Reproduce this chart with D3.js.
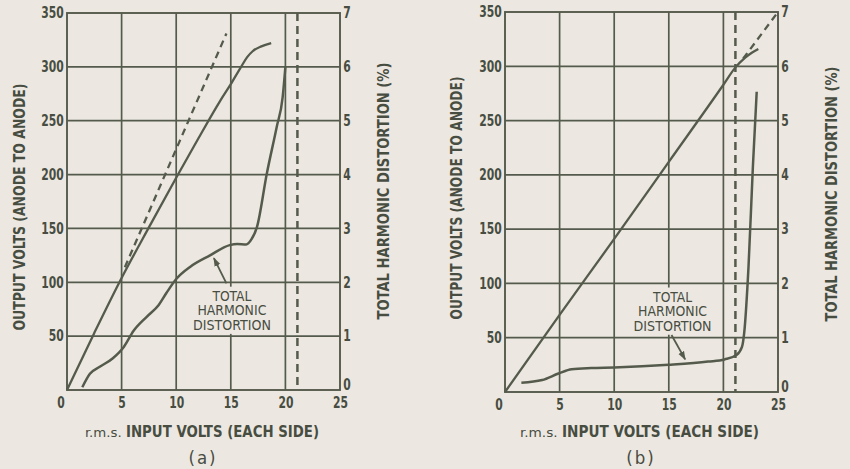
<!DOCTYPE html>
<html>
<head>
<meta charset="utf-8">
<script src="https://cdn.jsdelivr.net/npm/d3@7"></script>
<style>
  html, body { margin: 0; padding: 0; background: #ece8e1; }
  svg { display: block; }
  text { font-family: 'DejaVu Sans Condensed', 'DejaVu Sans', sans-serif; fill: #484d42; }
</style>
</head>
<body>
<svg id="chart" width="850" height="469"></svg>
<script>
// Axis ticks and titles shared by both graphs
const xTicks = [0, 5, 10, 15, 20, 25];
const voltTicks = [50, 100, 150, 200, 250, 300, 350];
const thdTicks = [0, 1, 2, 3, 4, 5, 6, 7];
const xTitleUnit = "r.m.s.";
const xTitle = "INPUT VOLTS (EACH SIDE)";
const yTitle = "OUTPUT VOLTS (ANODE TO ANODE)";
const y2Title = "TOTAL HARMONIC DISTORTION (%)";
const noteLines = ["TOTAL", "HARMONIC", "DISTORTION"];

// Graph (a): output volts [input V, output V]
const outputA = [[0, 0], [2.5, 53], [5, 104], [7.5, 151], [10, 197], [12, 233], [14, 268], [15, 284],
                 [16, 301], [16.5, 309], [17, 314.5], [17.8, 319], [18.7, 322]];
// Graph (a): ideal linear output (dashed)
const linearA = [[5.3, 114], [14.6, 331]];
// Graph (a): total harmonic distortion [input V, %]
const thdA = [[1.4, 0.05], [2.1, 0.3], [3.0, 0.43], [4.2, 0.59], [5.2, 0.8], [6.1, 1.1], [7.3, 1.36],
              [8.4, 1.58], [9.1, 1.8], [10.0, 2.06], [11.3, 2.29], [13.1, 2.5], [14.9, 2.69],
              [15.6, 2.71], [16.4, 2.7], [16.9, 2.8], [17.4, 3.03], [18.3, 4.02], [19.2, 4.88],
              [19.75, 5.44], [20.0, 6.0]];
const limitA = 21.1;
const arrowA = [[14.6, 1.98], [13.45, 2.45]];   // [tail, head] in input V / %
const noteA = [15.1, 74];                        // note centre, input V / output V

// Graph (b)
const outputB = [[0, 0], [5, 71], [10, 141], [15, 212], [20, 283], [21.1, 299], [22, 308],
                 [22.6, 312.5], [23.2, 316]];
const linearB = [[21.8, 307], [25, 350]];
const thdB = [[1.5, 0.17], [3.4, 0.22], [4.9, 0.34], [6.1, 0.42], [7.9, 0.44], [10, 0.45],
              [15, 0.5], [18.6, 0.56], [20.1, 0.6], [21.2, 0.68], [21.7, 0.83], [21.9, 1.08],
              [22.3, 2.31], [22.7, 4.15], [23.05, 5.53]];
const limitB = 21.1;
const arrowB = [[15.25, 1.05], [16.5, 0.6]];
const noteB = [15.35, 74.5];

const ink = "#555b4c";
const bg = "#ece8e1";
const noteWidths = [39, 69, 78];

const svg = d3.select("#chart");

svg.append("defs").append("marker")
  .attr("id", "arrowhead")
  .attr("viewBox", "0 0 10 10")
  .attr("refX", 9).attr("refY", 5)
  .attr("markerWidth", 5).attr("markerHeight", 5)
  .attr("markerUnits", "strokeWidth")
  .attr("orient", "auto")
  .append("path").attr("d", "M0,1.5 L10,5 L0,8.5 Z").attr("fill", ink);

function drawGraph(cfg) {
  const g = svg.append("g");
  const x = d3.scaleLinear().domain([0, 25]).range([cfg.left, cfg.right]);
  const y = d3.scaleLinear().domain([0, 350]).range([cfg.bottom, cfg.top]);
  const y2 = d3.scaleLinear().domain([0, 7]).range([cfg.bottom, cfg.top]);

  // grid
  g.selectAll(".vgrid").data(xTicks.slice(1, -1)).join("line")
    .attr("x1", d => x(d)).attr("x2", d => x(d))
    .attr("y1", cfg.top).attr("y2", cfg.bottom)
    .attr("stroke", ink).attr("stroke-width", 1.7);
  g.selectAll(".hgrid").data(voltTicks.slice(0, -1)).join("line")
    .attr("x1", cfg.left).attr("x2", cfg.right)
    .attr("y1", d => y(d)).attr("y2", d => y(d))
    .attr("stroke", ink).attr("stroke-width", 1.7);

  // note, drawn on a blank patch of the grid
  const nx = x(cfg.note[0]), ny = y(cfg.note[1]);
  const lh = 14.4;
  g.append("rect")
    .attr("x", nx - 43).attr("y", ny - lh * 1.5 - 2)
    .attr("width", 86).attr("height", lh * 3 + 4)
    .attr("fill", bg);
  g.append("text")
    .attr("text-anchor", "middle").attr("font-size", 13.5)
    .selectAll("tspan").data(noteLines).join("tspan")
    .attr("x", nx).attr("y", (d, i) => ny + (i - 1) * lh + 5)
    .attr("textLength", (d, i) => noteWidths[i]).attr("lengthAdjust", "spacingAndGlyphs")
    .text(d => d);

  // frame
  g.append("rect")
    .attr("x", cfg.left).attr("y", cfg.top)
    .attr("width", cfg.right - cfg.left).attr("height", cfg.bottom - cfg.top)
    .attr("fill", "none").attr("stroke", ink).attr("stroke-width", 1.9);

  // limit line
  g.append("line")
    .attr("x1", x(cfg.limit)).attr("x2", x(cfg.limit))
    .attr("y1", cfg.top).attr("y2", cfg.bottom)
    .attr("stroke", ink).attr("stroke-width", 2.5).attr("stroke-dasharray", "8,5");

  const lineV = d3.line().x(d => x(d[0])).y(d => y(d[1])).curve(d3.curveMonotoneX);
  const lineT = d3.line().x(d => x(d[0])).y(d => y2(d[1])).curve(d3.curveMonotoneX);

  g.append("path").attr("d", lineV(cfg.linear))
    .attr("fill", "none").attr("stroke", ink).attr("stroke-width", 2.3).attr("stroke-dasharray", "7,5");
  g.append("path").attr("d", lineV(cfg.output))
    .attr("fill", "none").attr("stroke", ink).attr("stroke-width", 2.3);
  g.append("path").attr("d", lineT(cfg.thd))
    .attr("fill", "none").attr("stroke", ink).attr("stroke-width", 2.5);

  // arrow
  g.append("line")
    .attr("x1", x(cfg.arrow[0][0])).attr("y1", y2(cfg.arrow[0][1]))
    .attr("x2", x(cfg.arrow[1][0])).attr("y2", y2(cfg.arrow[1][1]))
    .attr("stroke", ink).attr("stroke-width", 1.8).attr("marker-end", "url(#arrowhead)");

  // axes (labels only), tall narrow figures
  const styleAxis = sel => {
    sel.select(".domain").remove();
    sel.selectAll(".tick line").remove();
    sel.selectAll("text")
      .attr("font-size", 15).attr("font-weight", "bold")
      .attr("fill", "#484d42").attr("font-family", null)
      .attr("transform", "scale(0.8,1)");
  };
  g.append("g").attr("transform", `translate(0,${cfg.bottom})`)
    .call(d3.axisBottom(x).tickValues(xTicks).tickSize(0).tickPadding(7).tickFormat(d3.format("d")))
    .call(styleAxis)
    .selectAll(".tick text").attr("dx", d => d === 0 ? -8 : 0);
  g.append("g").attr("transform", `translate(${cfg.left},0)`)
    .call(d3.axisLeft(y).tickValues(voltTicks).tickSize(0).tickPadding(4).tickFormat(d3.format("d")))
    .call(styleAxis);
  g.append("g").attr("transform", `translate(${cfg.right},0)`)
    .call(d3.axisRight(y2).tickValues(thdTicks).tickSize(0).tickPadding(4).tickFormat(d3.format("d")))
    .call(styleAxis)
    .selectAll(".tick text").attr("dy", d => d === 0 ? "-0.05em" : "0.32em");

  // titles
  g.append("text")
    .attr("transform", `translate(${cfg.yTitleX},${cfg.yTitleY}) rotate(-90)`)
    .attr("text-anchor", "middle").attr("dominant-baseline", "central")
    .attr("font-size", 15.5).attr("font-weight", "bold")
    .attr("textLength", cfg.yTitleLen).attr("lengthAdjust", "spacingAndGlyphs")
    .text(yTitle);
  g.append("text")
    .attr("transform", `translate(${cfg.y2TitleX},${cfg.y2TitleY}) rotate(-90)`)
    .attr("text-anchor", "middle").attr("dominant-baseline", "central")
    .attr("font-size", 15.5).attr("font-weight", "bold")
    .attr("textLength", cfg.y2TitleLen).attr("lengthAdjust", "spacingAndGlyphs")
    .text(y2Title);
  const xt = g.append("text")
    .attr("x", cfg.xTitleX).attr("y", 437)
    .attr("font-size", 15.5);
  xt.append("tspan").attr("font-size", 13).text(xTitleUnit + " ")
    .attr("textLength", cfg.unitLen).attr("lengthAdjust", "spacingAndGlyphs");
  xt.append("tspan").attr("font-weight", "bold").text(xTitle)
    .attr("textLength", cfg.xTitleLen).attr("lengthAdjust", "spacingAndGlyphs");
  g.append("text")
    .attr("x", cfg.tagX).attr("y", 464)
    .attr("text-anchor", "middle")
    .attr("font-size", 18.5).attr("letter-spacing", 2)
    .text(cfg.tag);
}

drawGraph({
  left: 67, right: 340, top: 13, bottom: 390,
  output: outputA, linear: linearA, thd: thdA, limit: limitA, arrow: arrowA, note: noteA,
  yTitleX: 20, yTitleY: 207, yTitleLen: 247,
  y2TitleX: 384, y2TitleY: 191, y2TitleLen: 257,
  xTitleX: 85, unitLen: 41, xTitleLen: 193, tagX: 203, tag: "(a)"
});
drawGraph({
  left: 505, right: 778, top: 12, bottom: 392,
  output: outputB, linear: linearB, thd: thdB, limit: limitB, arrow: arrowB, note: noteB,
  yTitleX: 457, yTitleY: 198, yTitleLen: 243,
  y2TitleX: 832, y2TitleY: 194, y2TitleLen: 255,
  xTitleX: 520, unitLen: 42, xTitleLen: 197, tagX: 641, tag: "(b)"
});
</script>
</body>
</html>
